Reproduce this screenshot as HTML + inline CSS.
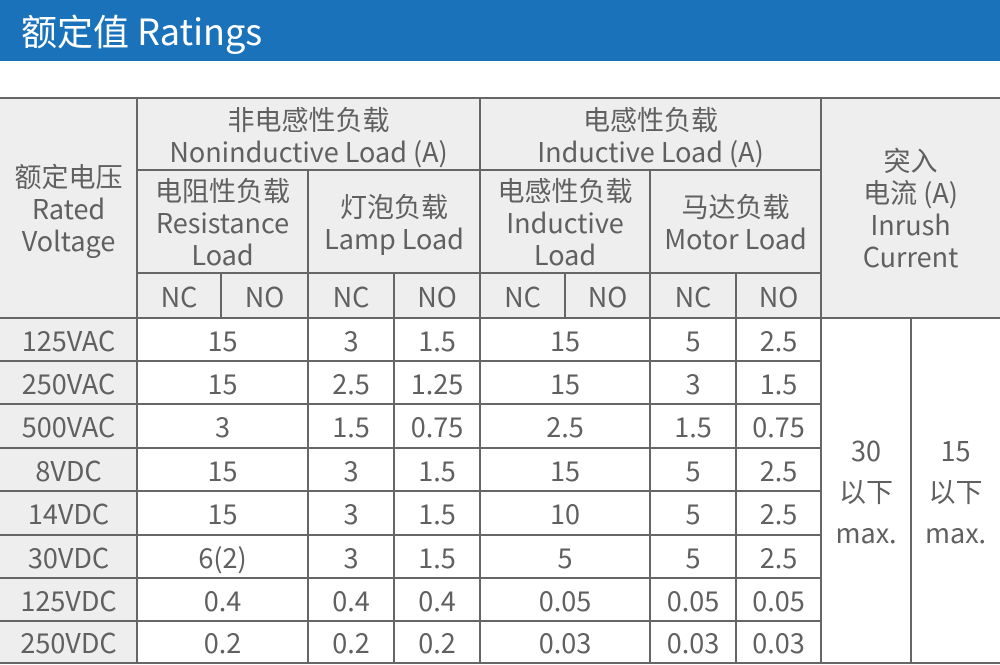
<!DOCTYPE html><html><head><meta charset="utf-8"><style>
body{margin:0;width:1000px;height:665px;background:#fff;position:relative;overflow:hidden;font-family:"Noto Sans CJK SC","Liberation Sans",sans-serif;color:#606060}
.b{position:absolute;left:0;top:0;width:1000px;height:61px;background:#1a72bb;color:#fff;font-size:36px;line-height:61px;padding-left:21px;box-sizing:border-box}
.c{position:absolute;display:flex;align-items:center;justify-content:center;text-align:center;font-size:27px;line-height:32px}
.g{background:#eeeeee}
.h{position:absolute;height:2px;background:#666}
.v{position:absolute;width:2px;background:#666}
</style></head><body>
<div class="b">额定值 Ratings</div>
<div class="c g" style="left:0;top:98px;width:1000px;height:220px"></div>
<div class="c g" style="left:0;top:318px;width:137px;height:345px"></div>
<div class="c" style="left:0;top:98px;width:137px;height:220px">额定电压<br>Rated<br>Voltage</div>
<div class="c" style="left:137px;top:100px;width:343px;height:70px">非电感性负载<br>Noninductive Load (A)</div>
<div class="c" style="left:480px;top:100px;width:341px;height:70px">电感性负载<br>Inductive Load (A)</div>
<div class="c" style="left:821px;top:98px;width:179px;height:220px">突入<br>电流 (A)<br>Inrush<br>Current</div>
<div class="c" style="left:137px;top:170px;width:171px;height:103px">电阻性负载<br>Resistance<br>Load</div>
<div class="c" style="left:308px;top:170px;width:172px;height:103px">灯泡负载<br>Lamp Load</div>
<div class="c" style="left:480px;top:170px;width:170px;height:103px">电感性负载<br>Inductive<br>Load</div>
<div class="c" style="left:650px;top:170px;width:171px;height:103px">马达负载<br>Motor Load</div>
<div class="c" style="left:137px;top:273px;width:84px;height:45px">NC</div>
<div class="c" style="left:221px;top:273px;width:87px;height:45px">NO</div>
<div class="c" style="left:308px;top:273px;width:86px;height:45px">NC</div>
<div class="c" style="left:394px;top:273px;width:86px;height:45px">NO</div>
<div class="c" style="left:480px;top:273px;width:85px;height:45px">NC</div>
<div class="c" style="left:565px;top:273px;width:85px;height:45px">NO</div>
<div class="c" style="left:650px;top:273px;width:86px;height:45px">NC</div>
<div class="c" style="left:736px;top:273px;width:85px;height:45px">NO</div>
<div class="c" style="left:821px;top:318px;width:90px;height:345px;line-height:41px">30<br>以下<br>max.</div>
<div class="c" style="left:911px;top:318px;width:89px;height:345px;line-height:41px">15<br>以下<br>max.</div>
<div id="rows"></div>
<div class="h" style="left:0;top:97px;width:1000px"></div>
<div class="h" style="left:0;top:662px;width:1000px"></div>
<div class="h" style="left:137px;top:169px;width:684px;height:1.5px"></div>
<div class="h" style="left:137px;top:272px;width:684px;height:1.5px"></div>
<div class="h" style="left:0;top:317px;width:1000px;height:1.5px"></div>
<div class="v" style="left:136px;top:98px;height:565px"></div>
<div class="v" style="left:479px;top:98px;height:565px"></div>
<div class="v" style="left:820px;top:98px;height:565px"></div>
<div class="v" style="left:307px;top:170px;height:493px"></div>
<div class="v" style="left:649px;top:170px;height:493px"></div>
<div class="v" style="left:393px;top:273px;height:390px;width:1.5px"></div>
<div class="v" style="left:735px;top:273px;height:390px;width:1.5px"></div>
<div class="v" style="left:220px;top:273px;height:45px;width:1.5px"></div>
<div class="v" style="left:564px;top:273px;height:45px;width:1.5px"></div>
<div class="v" style="left:910px;top:318px;height:345px;width:1.5px"></div>
<script>
var tops=[318,361,404,448,491,535,578,621,663];
var d=[["125VAC","15","3","1.5","15","5","2.5"],["250VAC","15","2.5","1.25","15","3","1.5"],["500VAC","3","1.5","0.75","2.5","1.5","0.75"],["8VDC","15","3","1.5","15","5","2.5"],["14VDC","15","3","1.5","10","5","2.5"],["30VDC","6(2)","3","1.5","5","5","2.5"],["125VDC","0.4","0.4","0.4","0.05","0.05","0.05"],["250VDC","0.2","0.2","0.2","0.03","0.03","0.03"]];
var xs=[[0,137],[137,308],[308,394],[394,480],[480,650],[650,736],[736,821]];
var h="";
for(var i=0;i<8;i++){var t=tops[i],hh=tops[i+1]-t;
for(var j=0;j<7;j++)h+='<div class="c" style="left:'+xs[j][0]+'px;top:'+t+'px;width:'+(xs[j][1]-xs[j][0])+'px;height:'+hh+'px">'+d[i][j]+'</div>';
if(i>0)h+='<div class="h" style="left:0;top:'+(t-1)+'px;width:821px;height:1.5px"></div>';}
document.getElementById("rows").innerHTML=h;
</script>
</body></html>
